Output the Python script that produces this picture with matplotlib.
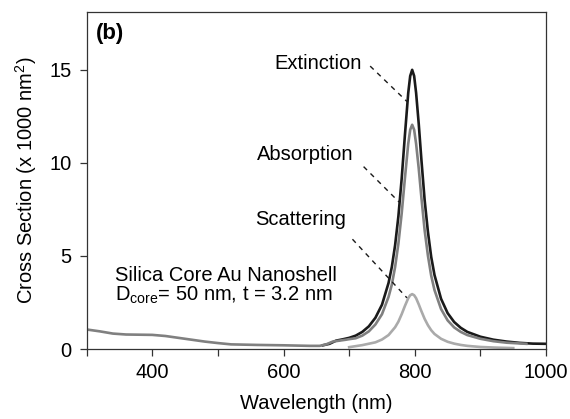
import matplotlib
matplotlib.use("Agg")
import matplotlib.pyplot as plt

plt.rcParams['font.family'] = ['Liberation Sans', 'DejaVu Sans']
plt.rcParams['mathtext.fontset'] = 'custom'
plt.rcParams['mathtext.rm'] = 'Liberation Sans'
plt.rcParams['mathtext.it'] = 'Liberation Sans:italic'

# Extinction (black)
ext_wl = [660, 670, 680, 690, 700, 710, 720, 730, 740, 750, 760, 765, 770, 775, 780, 785,
          790, 793, 796, 799, 802, 806, 810, 815, 820, 825, 830, 840, 850, 860, 870, 880,
          900, 920, 940, 960, 980, 1000]
ext_val = [0.2, 0.28, 0.45, 0.52, 0.6, 0.72, 0.92, 1.22, 1.68, 2.38, 3.55, 4.41, 5.58, 7.13, 9.15, 11.52,
           13.76, 14.67, 15.0, 14.67, 13.76, 12.1, 10.2, 8.0, 6.3, 4.95, 3.98, 2.7, 1.93, 1.45, 1.14, 0.92,
           0.66, 0.5, 0.4, 0.33, 0.29, 0.28]

# Absorption (mid gray)
abs_wl = [300, 320, 340, 360, 400, 420, 440, 460, 480, 500, 520, 560, 600, 640, 655, 665,
          675, 685, 695, 700, 710, 720, 730, 740, 750, 760, 765, 770, 775, 780, 785, 790,
          793, 796, 799, 802, 806, 810, 815, 820, 825, 830, 840, 850, 860, 870, 880, 900,
          920, 940, 960, 970]
abs_val = [1.05, 0.95, 0.83, 0.78, 0.76, 0.7, 0.6, 0.5, 0.4, 0.32, 0.25, 0.22, 0.2, 0.17, 0.17, 0.25,
           0.4, 0.45, 0.5, 0.53, 0.58, 0.72, 0.95, 1.32, 1.87, 2.8, 3.46, 4.41, 5.66, 7.28, 9.2, 11.03,
           11.78, 12.05, 11.78, 11.03, 9.7, 8.16, 6.38, 5.02, 3.94, 3.17, 2.15, 1.54, 1.16, 0.92, 0.75, 0.55,
           0.42, 0.34, 0.3, 0.28]

# Scattering (light gray)
sca_wl = [700, 720, 740, 750, 760, 770, 775, 780, 785, 790, 793, 796, 799, 802, 806, 810,
          815, 820, 825, 830, 840, 850, 860, 870, 880, 900, 920, 940, 950]
sca_val = [0.1, 0.21, 0.36, 0.51, 0.75, 1.17, 1.47, 1.87, 2.32, 2.73, 2.89, 2.95, 2.89, 2.73, 2.4, 2.04,
           1.62, 1.28, 1.01, 0.81, 0.55, 0.39, 0.29, 0.22, 0.17, 0.11, 0.08, 0.06, 0.05]

fig = plt.figure(figsize=(5.7, 4.19), dpi=100)
ax = fig.add_axes([0.152, 0.167, 0.806, 0.804])

ax.plot(ext_wl, ext_val, color='#1a1a1a', lw=1.9)
ax.plot(abs_wl, abs_val, color='#808080', lw=1.9)
ax.plot(sca_wl, sca_val, color='#aaaaaa', lw=1.9)

ax.set_xlim(300, 1000)
ax.set_ylim(0, 18.1)
ax.set_xticks(range(300, 1001, 100))
ax.set_xticklabels(['', '400', '', '600', '', '800', '', '1000'])
ax.set_yticks([0, 5, 10, 15])
ax.tick_params(axis='both', direction='out', length=5, width=0.9, color='#333333',
               labelsize=14.5, pad=6)
ax.tick_params(axis='x', pad=5)
for s in ax.spines.values():
    s.set_color('#333333')
    s.set_linewidth(0.9)

ax.set_xlabel('Wavelength (nm)', fontsize=14.5, labelpad=9)
ax.set_ylabel('Cross Section (x 1000 nm$^2$)', fontsize=14.5, labelpad=7)

# labels with dashed leader lines
fs = 14.5
dash = (0, (3.5, 3.5))
ax.text(653, 15.36, 'Extinction', fontsize=fs, ha='center', va='center')
ax.plot([732, 788], [15.2, 13.3], color='#1a1a1a', lw=1.0, ls=dash)
ax.text(633, 10.43, 'Absorption', fontsize=fs, ha='center', va='center')
ax.plot([722, 776], [9.8, 7.9], color='#1a1a1a', lw=1.0, ls=dash)
ax.text(626, 6.94, 'Scattering', fontsize=fs, ha='center', va='center')
ax.plot([705, 788], [5.9, 2.75], color='#1a1a1a', lw=1.0, ls=dash)

ax.text(343, 3.94, 'Silica Core Au Nanoshell', fontsize=fs, ha='left', va='center')
ax.text(343, 2.9, r'D$_{\mathrm{core}}$= 50 nm, t = 3.2 nm', fontsize=fs, ha='left', va='center')

ax.text(314, 16.95, '(b)', fontsize=16, fontweight='bold', ha='left', va='center')

fig.savefig('out.png', dpi=100)
